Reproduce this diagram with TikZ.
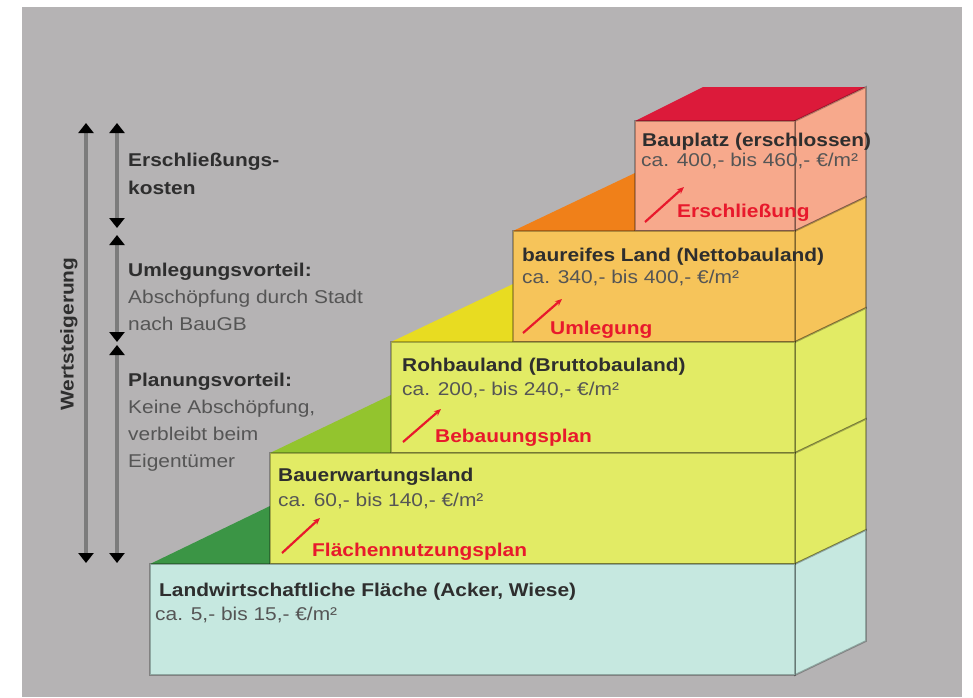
\documentclass[tikz,border=0pt]{standalone}
\usepackage{fontspec}
\setmainfont{Liberation Sans}[FakeStretch=1.13]
\usetikzlibrary{arrows.meta}
\definecolor{bggrey}{HTML}{B5B3B4}
\definecolor{salmon}{HTML}{F7A98C}
\definecolor{ochre}{HTML}{F6C45A}
\definecolor{lime}{HTML}{E2EB65}
\definecolor{mint}{HTML}{C6E8E0}
\definecolor{roof}{HTML}{DC1A3A}
\definecolor{orangetri}{HTML}{F08019}
\definecolor{yellowtri}{HTML}{E8DC21}
\definecolor{lgreen}{HTML}{93C42E}
\definecolor{dgreen}{HTML}{3B9545}
\definecolor{titlec}{HTML}{2E2E2E}
\definecolor{pricec}{HTML}{555555}
\definecolor{redc}{HTML}{E8192C}
\definecolor{linec}{HTML}{7C7C7C}
\tikzset{
  blockline/.style={draw=black, draw opacity=0.28, line width=1.8pt, line join=miter},
  txt/.style={anchor=base west, inner sep=0pt},
  titletxt/.style={txt, font=\fontsize{18.5}{22}\selectfont\bfseries, text=titlec},
  pricetxt/.style={txt, font=\fontsize{18.5}{22}\selectfont, text=pricec},
  redtxt/.style={txt, font=\fontsize{18.5}{22}\selectfont\bfseries, text=redc},
  lefthead/.style={txt, font=\fontsize{18.5}{22}\selectfont\bfseries, text=titlec},
  lefttxt/.style={txt, font=\fontsize{18.5}{22}\selectfont, text=pricec},
  redarrow/.style={draw=redc, line width=2.2pt, -{Stealth[length=7pt,width=6pt]}},
  dimarrow/.style={draw=linec, line width=3.2pt,
     {Triangle[width=15pt,length=10pt,color=black]}-{Triangle[width=15pt,length=10pt,color=black]}}
}
\begin{document}
\begin{tikzpicture}[x=1pt,y=-1pt]
\useasboundingbox (0,0) rectangle (973,697);
\fill[white] (0,0) rectangle (973,697);
\fill[bggrey] (22,7) rectangle (962,697);

% left-side top triangles
\fill[dgreen] (150,564) -- (270,564) -- (270,506) -- cycle;
\fill[lgreen] (270,453) -- (391,453) -- (391,395) -- cycle;
\fill[yellowtri] (391,342) -- (513,342) -- (513,284) -- cycle;
\fill[orangetri] (513,231) -- (635,231) -- (635,173) -- cycle;

% roof
\fill[roof] (635,121) -- (703,87) -- (866,87) -- (795,121) -- cycle;

% side faces
\filldraw[fill=salmon, blockline] (795,121) -- (866,87) -- (866,197) -- (795,231) -- cycle;
\filldraw[fill=ochre, blockline] (795,231) -- (866,197) -- (866,308) -- (795,342) -- cycle;
\filldraw[fill=lime, blockline] (795,342) -- (866,308) -- (866,419) -- (795,453) -- cycle;
\filldraw[fill=lime, blockline] (795,453) -- (866,419) -- (866,530) -- (795,564) -- cycle;
\filldraw[fill=mint, blockline] (795,564) -- (866,530) -- (866,641) -- (795,675) -- cycle;

% front faces
\filldraw[fill=salmon, blockline] (635,121) rectangle (795,231);
\filldraw[fill=ochre, blockline] (513,231) rectangle (795,342);
\filldraw[fill=lime, blockline] (391,342) rectangle (795,453);
\filldraw[fill=lime, blockline] (270,453) rectangle (795,564);
\filldraw[fill=mint, blockline] (150,564) rectangle (795,675);

% block texts
\node[titletxt] (t5) at (642,146) {Bauplatz (erschlossen)};
\node[pricetxt] (p5) at (641,166) {ca. 400,- bis 460,- €/m²};
\node[titletxt] (t4) at (522,261) {baureifes Land (Nettobauland)};
\node[pricetxt] (p4) at (522,283) {ca. 340,- bis 400,- €/m²};
\node[titletxt] (t3) at (402,371) {Rohbauland (Bruttobauland)};
\node[pricetxt] (p3) at (402,395) {ca. 200,- bis 240,- €/m²};
\node[titletxt] (t2) at (278,481) {Bauerwartungsland};
\node[pricetxt] (p2) at (278,506) {ca. 60,- bis 140,- €/m²};
\node[titletxt] (t1) at (159,596) {Landwirtschaftliche Fläche (Acker, Wiese)};
\node[pricetxt] (p1) at (155,620) {ca. 5,- bis 15,- €/m²};

% red labels and arrows
\node[redtxt] (r5) at (677,217) {Erschließung};
\node[redtxt] (r4) at (550,334) {Umlegung};
\node[redtxt] (r3) at (435,442) {Bebauungsplan};
\node[redtxt] (r2) at (312,556) {Flächennutzungsplan};
\coordinate (a5s) at (645,222); \coordinate (a5e) at (684,187);
\coordinate (a4s) at (523,333); \coordinate (a4e) at (562,299);
\coordinate (a3s) at (403,442); \coordinate (a3e) at (441,409);
\coordinate (a2s) at (282,553); \coordinate (a2e) at (320,518);
\draw[redarrow] (a5s) -- (a5e);
\draw[redarrow] (a4s) -- (a4e);
\draw[redarrow] (a3s) -- (a3e);
\draw[redarrow] (a2s) -- (a2e);

% dimension arrows
\coordinate (o1) at (86,123); \coordinate (o2) at (86,563);
\coordinate (i1) at (117,123); \coordinate (i2) at (117,228);
\coordinate (i3) at (117,235); \coordinate (i4) at (117,342);
\coordinate (i5) at (117,345); \coordinate (i6) at (117,563);
\draw[dimarrow] (o1) -- (o2);
\draw[dimarrow] (i1) -- (i2);
\draw[dimarrow] (i3) -- (i4);
\draw[dimarrow] (i5) -- (i6);

\node[rotate=90, inner sep=0pt, font=\fontsize{18.5}{22}\selectfont\bfseries, text=titlec] (ws) at (69,334) {Wertsteigerung};

% left explanations
\node[lefthead] (e1) at (128,166) {Erschließungs-};
\node[lefthead] (e2) at (128,194) {kosten};
\node[lefthead] (u1) at (128,276) {Umlegungsvorteil:};
\node[lefttxt] (u2) at (128,303) {Abschöpfung durch Stadt};
\node[lefttxt] (u3) at (128,330) {nach BauGB};
\node[lefthead] (pl1) at (128,386) {Planungsvorteil:};
\node[lefttxt] (pl2) at (128,413) {Keine Abschöpfung,};
\node[lefttxt] (pl3) at (128,440) {verbleibt beim};
\node[lefttxt] (pl4) at (128,467) {Eigentümer};
\end{tikzpicture}
\end{document}
